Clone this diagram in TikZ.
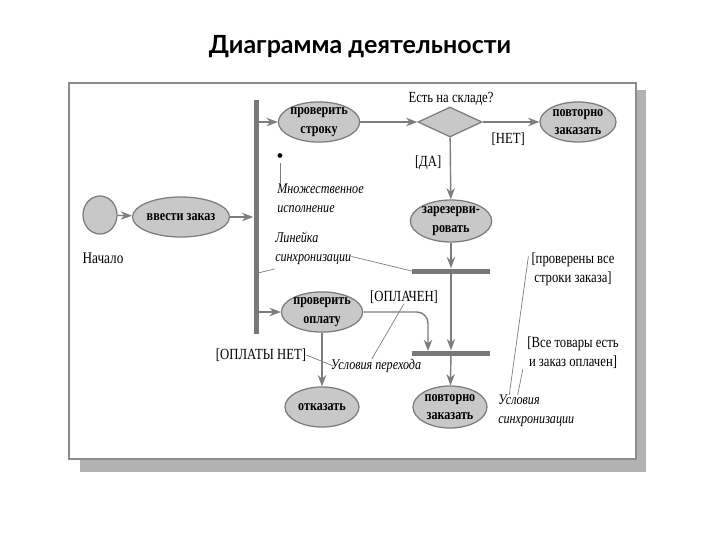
\documentclass[tikz,border=0pt]{standalone}
\usepackage{fontspec}
\setmainfont{Liberation Serif}
\newfontfamily\narrowfont{Liberation Serif}[FakeStretch=0.82]
\newfontfamily\titlefont{Lato}
\usetikzlibrary{arrows.meta,shapes.geometric,positioning}
\definecolor{nodegray}{RGB}{200,200,200}
\definecolor{linegray}{RGB}{125,125,125}
\definecolor{bargray}{RGB}{120,120,120}
\definecolor{framegray}{RGB}{140,140,140}
\definecolor{shadowgray}{RGB}{178,178,178}
\tikzset{
  act/.style={ellipse, draw=linegray, fill=nodegray, line width=0.9pt,
    minimum width=1.9cm, minimum height=1cm, inner sep=0pt, align=center,
    font=\narrowfont\bfseries\fontsize{10.5}{13}\selectfont},
  syncbar/.style={rectangle, fill=bargray, draw=none, inner sep=0pt},
  flow/.style={draw=linegray, line width=1pt, -{Stealth[length=8pt,width=6pt]}},
  leader/.style={draw=linegray, line width=0.5pt},
  cond/.style={font=\narrowfont\fontsize{11}{13.5}\selectfont, inner sep=0pt, align=center},
  remark/.style={font=\narrowfont\itshape\fontsize{10.5}{13.5}\selectfont, inner sep=0pt, align=left}
}
\begin{document}
\begin{tikzpicture}[x=0.025cm,y=-0.025cm]
  \useasboundingbox (0,0) rectangle (720,540);
  % title
  \node[font=\titlefont\bfseries\fontsize{17.8}{20}\selectfont] (title) at (360,47) {Диаграмма деятельности};
  % frame with shadow
  \fill[shadowgray] (80,90) rectangle (646,472);
  \filldraw[fill=white, draw=framegray, line width=1pt] (69,83) rectangle (636,459);

  % activities
  \node[act, minimum width=0.85cm, minimum height=0.95cm] (start) at (100,215) {};
  \node[cond, font=\narrowfont\fontsize{11.5}{13.5}\selectfont] (startlbl) at (103,258) {Начало};
  \node[act] (enter) at (181,217) {ввести заказ};
  \node[syncbar, minimum width=0.125cm, minimum height=5.85cm] (fork) at (256,217) {};
  \node[act, minimum width=1.7cm, minimum height=0.95cm] (chkline) at (319,122) {проверить\\строку};
  \node[diamond, draw=linegray, fill=nodegray, line width=0.9pt, inner sep=0pt,
    minimum width=1.6cm, minimum height=0.75cm] (stock) at (450,122) {};
  \node[cond] (stocklbl) at (451,99) {Есть на складе?};
  \node[act] (reorder) at (578,122) {повторно\\заказать};
  \node[act, minimum height=1.05cm] (reserve) at (451,221) {зарезерви-\\ровать};
  \node[syncbar, minimum width=1.95cm, minimum height=0.125cm] (joinA) at (451,271) {};
  \node[syncbar, minimum width=1.95cm, minimum height=0.125cm] (joinB) at (451,353) {};
  \node[act, minimum width=1.85cm, minimum height=1.05cm] (reorderB) at (450,407) {повторно\\заказать};
  \node[act, minimum width=1.85cm] (chkpay) at (322,312) {проверить\\оплату};
  \node[act, minimum width=1.85cm] (refuse) at (322,407) {отказать};

  % flows
  \draw[flow] (start) -- (enter);
  \draw[flow] (enter) -- (enter -| fork.west);
  \draw[flow] (fork.east |- chkline) -- (chkline);
  \draw[flow] (fork.east |- chkpay) -- (chkpay);
  \draw[flow] (chkline) -- (stock);
  \draw[flow] (stock) -- (reorder) node[cond, pos=0.45, below=7pt] (nolbl) {[НЕТ]};
  \draw[flow] (stock) -- (reserve) node[cond, pos=0.4, left=6pt] (yeslbl) {[ДА]};
  \draw[flow] (reserve) -- (joinA);
  \draw[flow] (joinA) -- (joinB);
  \draw[flow] (joinB) -- (reorderB);
  \coordinate (payin) at (428,351);
  \draw[flow, rounded corners=8pt] (chkpay.east) -| (payin);
  \draw[flow] (chkpay) -- (refuse);

  % guard labels
  \node[cond] (paidlbl) at (404,297) {[ОПЛАЧЕН]};
  \node[cond] (unpaidlbl) at (261,355) {[ОПЛАТЫ НЕТ]};
  \node[cond] (linesok) at (573,269) {[проверены все\\строки заказа]};
  \node[cond] (allok) at (573,353) {[Все товары есть\\и заказ оплачен]};

  % remarks
  \node[font=\fontsize{14}{14}\selectfont, inner sep=0pt] (multi) at (280,158) {•};
  \node[remark, anchor=west] (multilbl) at (277,198) {Множественное\\исполнение};
  \draw[leader] (multi.south) -- (multi.south |- multilbl.north);
  \node[remark, anchor=west] (synclbl) at (275,248) {Линейка\\синхронизации};
  \draw[leader] ([yshift=-3pt]synclbl.south west) -- (258,273);
  \draw[leader] ([yshift=-6pt]synclbl.east) -- (joinA.west);
  \node[remark] (trcond) at (376,366) {Условия перехода};
  \draw[leader] (unpaidlbl.east) -- ([xshift=2pt]trcond.west);
  \draw[leader] ([xshift=-3pt]trcond.north) -- (paidlbl.south);
  \node[remark, anchor=west] (synccond) at (498,411) {Условия\\синхронизации};
  \draw[leader] ([xshift=8pt]synccond.north west) -- ([xshift=-2pt,yshift=-3pt]linesok.north west);
  \draw[leader] ([xshift=14pt]synccond.north west) -- ([xshift=-3pt]allok.south west);
\end{tikzpicture}
\end{document}
